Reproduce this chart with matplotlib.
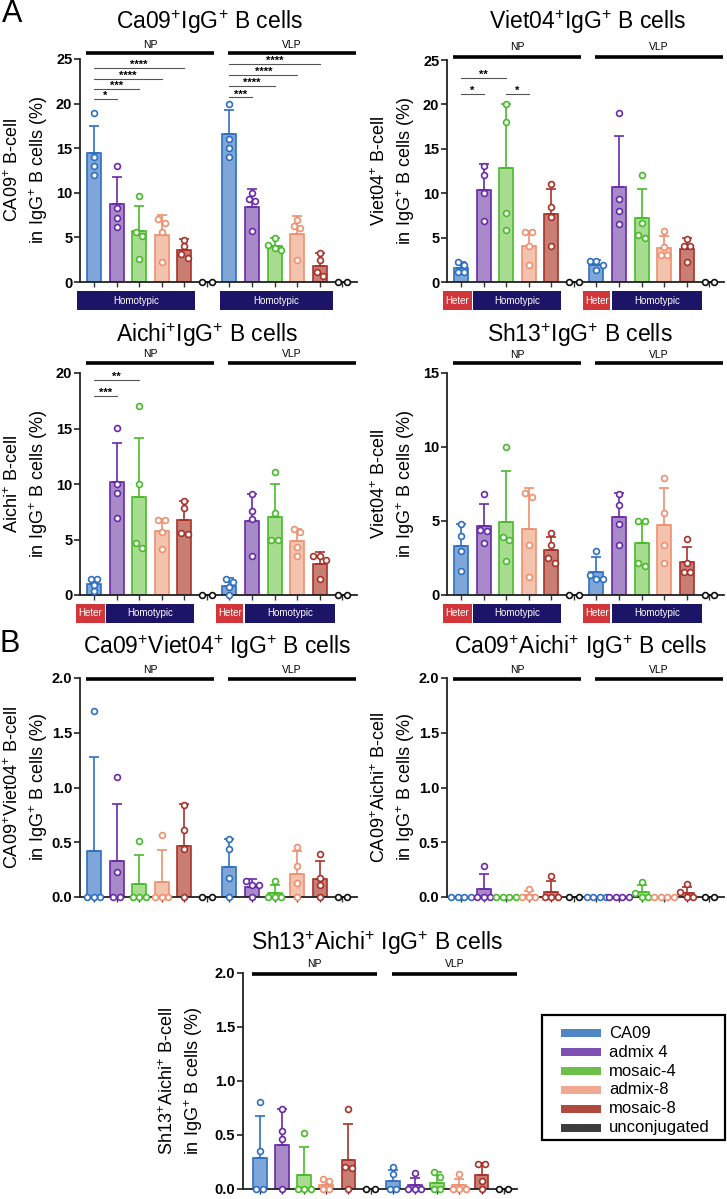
import matplotlib
matplotlib.use('Agg')
import matplotlib.pyplot as plt
import matplotlib.transforms as mtransforms
from matplotlib.patches import Rectangle
import numpy as np

plt.rcParams['font.family'] = ['Liberation Sans', 'DejaVu Sans']
plt.rcParams['mathtext.fontset'] = 'custom'
plt.rcParams['mathtext.rm'] = 'Liberation Sans'
plt.rcParams['mathtext.it'] = 'Liberation Sans:italic'
plt.rcParams['mathtext.bf'] = 'Liberation Sans:bold'

# ---------------- data ----------------
groups = ['CA09', 'admix 4', 'mosaic-4', 'admix-8', 'mosaic-8', 'unconjugated']
vaccines = ['NP', 'VLP']

# Panel A1: Ca09+IgG+
ca09_means = [14.43, 8.8, 5.73, 5.25, 3.56, 0, 16.64, 8.43, 4.05, 5.36, 1.8, 0]
ca09_sds = [3.11, 2.93, 2.82, 2.25, 1.24, 0, 2.59, 1.99, 0.93, 2.02, 1.4, 0]
ca09_points = [[19.0, 14.05, 13.0, 12.0], [13.0, 8.25, 7.2, 6.2], [9.6, 5.65, 5.2, 2.6],
               [7.1, 6.6, 5.65, 2.25], [4.7, 4.0, 3.1, 2.7], [0, 0],
               [20.0, 16.0, 15.0, 14.0], [10.0, 9.3, 9.1, 5.7], [4.9, 4.1, 3.8, 3.6],
               [7.0, 6.3, 6.0, 2.5], [3.26, 2.5, 1.1, 0.64], [0, 0]]
ca09_sig = [(0, 1, 20.5, '*'), (0, 2, 21.6, '***'), (0, 3, 22.75, '****'), (0, 4, 24.0, '****'),
            (6, 7, 20.7, '***'), (6, 8, 21.96, '****'), (6, 9, 23.2, '****'), (6, 10, 24.44, '****')]

# Panel A2: Viet04+IgG+
viet_means = [1.6, 10.41, 12.86, 4.1, 7.63, 0, 1.88, 10.68, 7.18, 3.83, 3.76, 0]
viet_sds = [0.65, 2.86, 7.14, 1.65, 2.87, 0, 0.56, 5.75, 3.31, 1.36, 1.2, 0]
viet_points = [[2.3, 1.9, 1.1, 1.1], [13.1, 12.0, 10.0, 6.85], [20.0, 18.0, 7.8, 5.8],
               [5.6, 5.6, 4.0, 1.95], [11.0, 8.4, 7.3, 4.0], [0, 0],
               [2.37, 2.37, 1.9, 1.3], [19.0, 9.4, 8.0, 6.5], [12.0, 6.65, 5.3, 5.0],
               [5.75, 3.95, 3.0, 3.0], [4.8, 4.1, 4.1, 2.25], [0, 0]]
viet_sig = [(0, 1, 21.17, '*'), (0, 2, 23.0, '**'), (2, 3, 21.17, '*')]

# Panel A3: Aichi+IgG+
aichi_means = [1.0, 10.17, 8.87, 5.77, 6.77, 0, 0.83, 6.68, 7.0, 4.9, 2.77, 0]
aichi_sds = [0.5, 3.51, 5.26, 1.09, 1.73, 0, 0.67, 2.4, 2.98, 1.05, 1.08, 0]
aichi_points = [[1.44, 1.44, 0.9, 0.4], [15.04, 10.0, 9.17, 6.92], [17.05, 10.0, 4.66, 4.2],
                [6.77, 6.77, 5.65, 4.12], [8.5, 7.8, 5.56, 5.5], [0, 0],
                [1.4, 1.2, 0.7, 0.0], [9.08, 7.58, 6.83, 3.55], [11.04, 7.37, 4.96, 4.96],
                [5.95, 5.65, 4.36, 3.55], [3.55, 3.55, 3.16, 1.44], [0, 0]]
aichi_sig = [(0, 1, 17.95, '***'), (0, 2, 19.4, '**')]

# Panel A4: Sh13+IgG+
sh13_means = [3.34, 4.69, 4.92, 4.47, 3.05, 0, 1.58, 5.26, 3.5, 4.71, 2.21, 0]
sh13_sds = [1.46, 1.49, 3.47, 2.79, 0.9, 0, 0.97, 1.62, 1.5, 2.55, 1.06, 0]
sh13_points = [[4.8, 4.0, 3.0, 1.6], [6.81, 4.38, 4.33, 3.54], [10.0, 3.9, 3.72, 2.32],
               [6.92, 6.63, 3.38, 1.2], [4.22, 3.38, 2.48, 2.14], [0, 0],
               [3.0, 1.35, 1.08, 1.08], [6.81, 6.09, 4.78, 3.38], [5.0, 5.0, 2.19, 1.99],
               [7.9, 5.53, 3.38, 2.19], [3.79, 2.14, 1.58, 1.53], [0, 0]]

# Panel B1: Ca09+Viet04+
cv_means = [0.42, 0.33, 0.12, 0.14, 0.47, 0, 0.27, 0.09, 0.04, 0.21, 0.16, 0]
cv_sds = [0.86, 0.52, 0.26, 0.29, 0.38, 0, 0.26, 0.07, 0.07, 0.21, 0.17, 0]
cv_points = [[1.70, 0, 0, 0], [1.10, 0.23, 0, 0], [0.51, 0, 0, 0], [0.57, 0, 0, 0],
             [0.84, 0.61, 0.44, 0], [0, 0],
             [0.53, 0.44, 0.17, 0], [0.15, 0.11, 0.11, 0], [0.15, 0, 0, 0],
             [0.46, 0.28, 0.13, 0], [0.39, 0.17, 0.11, 0], [0, 0]]

# Panel B2: Ca09+Aichi+
ca_means = [0, 0.07, 0, 0.018, 0.045, 0, 0, 0, 0.045, 0, 0.04, 0]
ca_sds = [0, 0.14, 0, 0.035, 0.1, 0, 0, 0, 0.065, 0, 0.055, 0]
ca_points = [[0, 0, 0, 0], [0.28, 0, 0, 0], [0, 0, 0, 0], [0.07, 0, 0, 0],
             [0.19, 0, 0, 0], [0, 0],
             [0, 0, 0, 0], [0, 0, 0, 0], [0.14, 0.04, 0, 0], [0, 0, 0, 0],
             [0.12, 0.045, 0, 0], [0, 0]]

# Panel B3: Sh13+Aichi+
sa_means = [0.29, 0.41, 0.13, 0.04, 0.27, 0, 0.076, 0.036, 0.06, 0.035, 0.13, 0]
sa_sds = [0.39, 0.33, 0.26, 0.05, 0.33, 0, 0.1, 0.07, 0.1, 0.06, 0.11, 0]
sa_points = [[0.81, 0.35, 0, 0], [0.74, 0.54, 0.46, 0], [0.52, 0, 0, 0], [0.09, 0.075, 0, 0],
             [0.74, 0.2, 0.19, 0], [0, 0],
             [0.2, 0.14, 0, 0], [0.145, 0, 0, 0], [0.16, 0.115, 0, 0], [0.14, 0, 0, 0],
             [0.23, 0.23, 0.07, 0], [0, 0]]

# ---------------- style ----------------
W, H = 727, 1199
edge_colors = ['#2f6fc0', '#6a2aa8', '#48bb2a', '#ee9070', '#a8322a', '#111111']
fill_colors = ['#7ea6d8', '#a88ac8', '#a8dc90', '#f4c3ae', '#c97e74', '#ffffff']
legend_colors = ['#4f86c6', '#7e4fb3', '#6cc04a', '#f0a893', '#b04a3f', '#3d3d3d']
HETER = '#d2353a'
HOMO = '#1c1466'

fig = plt.figure(figsize=(W / 100, H / 100), dpi=100)


def add_ax(l, t, r, b):
    return fig.add_axes([l / W, 1 - b / H, (r - l) / W, (b - t) / H])


def fy(ypx):
    return 1 - ypx / H


def swarm_offsets(vals, px_x, px_y, diam=5.5, spacing=6.5):
    order = np.argsort(vals)[::-1]
    offs = np.zeros(len(vals))
    rows = []
    for i in order:
        if rows and abs(vals[rows[-1][0]] - vals[i]) * px_y < diam:
            rows[-1].append(i)
        else:
            rows.append([i])
    for row in rows:
        n = len(row)
        for k, i in enumerate(row):
            offs[i] = (k - (n - 1) / 2) * spacing / px_x
    return offs


def panel(box, means, sds, points, ylim, yticks, fmt, ylabel, title, title_xy,
          xlim=(-0.62, 11.65), sig=None, line_y=None, lab_y=None, boxes=None, lab_x=-0.108):
    l, t, r, b = box
    ax = add_ax(l, t, r, b)
    ax.set_xlim(*xlim)
    ax.set_ylim(*ylim)
    px_x = (r - l) / (xlim[1] - xlim[0])
    px_y = (b - t) / (ylim[1] - ylim[0])
    xs = np.arange(12)
    for i in xs:
        g = i % 6
        if g < 5:
            ax.bar(i, means[i], width=0.62, color=fill_colors[g], edgecolor=edge_colors[g],
                   linewidth=1.2, zorder=2)
        ax.errorbar(i, means[i], yerr=[[0], [sds[i]]], fmt='none', ecolor=edge_colors[g],
                    elinewidth=1.2, capsize=3.3, capthick=1.2, zorder=3, clip_on=False)
        pts = np.array(points[i], dtype=float)
        if g == 5:
            offs = np.array([-4.8, 4.8]) / px_x
        else:
            offs = swarm_offsets(pts, px_x, px_y)
        ax.plot(i + offs, pts, 'o', ms=4.2, mfc='white', mec=edge_colors[g], mew=1.2,
                zorder=4, clip_on=False)
    for s in ['top', 'right']:
        ax.spines[s].set_visible(False)
    for s in ['left', 'bottom']:
        ax.spines[s].set_linewidth(1.3)
        ax.spines[s].set_color('#222222')
    ax.set_xticks(xs)
    ax.set_xticklabels([])
    ax.tick_params(axis='x', length=3.5, width=1.0, color='#333333')
    ax.set_yticks(yticks)
    ax.set_yticklabels([fmt.format(v) for v in yticks], fontsize=10.5, fontweight='bold')
    ax.tick_params(axis='y', length=4, width=1.2, color='#222222', pad=1.5)
    ax.set_ylabel(ylabel, fontsize=13, linespacing=1.3)
    ax.yaxis.set_label_coords(lab_x, 0.5)
    fig.text(title_xy[0] / W, fy(title_xy[1]), title, fontsize=16.5, ha='center', va='center')

    bt = mtransforms.blended_transform_factory(ax.transData, fig.transFigure)
    for (x0, x1), name in [((-0.35, 5.3), vaccines[0]), ((5.95, 11.6), vaccines[1])]:
        ax.plot([x0, x1], [fy(line_y)] * 2, color='black', lw=2.6, transform=bt,
                clip_on=False, solid_capstyle='butt')
        ax.text((x0 + x1) / 2, fy(lab_y), name, fontsize=7.5, ha='center', va='center',
                transform=bt)
    if sig:
        for a, c, y, st in sig:
            ax.plot([a, c], [y, y], color='#555555', lw=0.8, clip_on=False, zorder=5)
            ax.text((a + c) / 2, y, st, ha='center', va='baseline',
                    fontsize=8, fontweight='bold', zorder=5)
    if boxes:
        y0 = fy(b + 28)
        hh = 19 / H
        for name, x0, x1 in boxes:
            col = HETER if name == 'Heter' else HOMO
            ax.add_patch(Rectangle((x0, y0), x1 - x0, hh, transform=bt, facecolor=col,
                                   edgecolor='none', clip_on=False))
            ax.text((x0 + x1) / 2, y0 + hh / 2, name, color='white', fontsize=7,
                    ha='center', va='center', transform=bt)
    return ax


boxes1 = [('Homotypic', -0.76, 4.46), ('Homotypic', 5.58, 10.58)]
boxes2 = [('Heter', -0.8, 0.47), ('Homotypic', 0.55, 4.45),
          ('Heter', 5.4, 6.62), ('Homotypic', 6.68, 10.68)]

t25 = [0, 5, 10, 15, 20, 25]
t20 = [0, 5, 10, 15, 20]
t15 = [0, 5, 10, 15]
t2 = [0.0, 0.5, 1.0, 1.5, 2.0]

panel((80, 59, 357, 282), ca09_means, ca09_sds, ca09_points, (0, 25), t25, '{:.0f}',
      'CA09$^{+}$ B-cell\nin IgG$^{+}$ B cells (%)', 'Ca09$^{+}$IgG$^{+}$ B cells', (209, 22),
      sig=ca09_sig, line_y=53, lab_y=45, boxes=boxes1)
panel((447, 60, 724, 282), viet_means, viet_sds, viet_points, (0, 25), t25, '{:.0f}',
      'Viet04$^{+}$ B-cell\nin IgG$^{+}$ B cells (%)', 'Viet04$^{+}$IgG$^{+}$ B cells', (588, 22),
      sig=viet_sig, line_y=56.5, lab_y=47, boxes=boxes2)
panel((80, 373, 357, 595), aichi_means, aichi_sds, aichi_points, (0, 20), t20, '{:.0f}',
      'Aichi$^{+}$ B-cell\nin IgG$^{+}$ B cells (%)', 'Aichi$^{+}$IgG$^{+}$ B cells', (207, 335),
      sig=aichi_sig, line_y=363, lab_y=354, boxes=boxes2)
panel((447, 373, 724, 595), sh13_means, sh13_sds, sh13_points, (0, 15), t15, '{:.0f}',
      'Viet04$^{+}$ B-cell\nin IgG$^{+}$ B cells (%)', 'Sh13$^{+}$IgG$^{+}$ B cells', (580, 335),
      line_y=363, lab_y=355, boxes=boxes2)
panel((80, 678, 357, 897), cv_means, cv_sds, cv_points, (0, 2), t2, '{:.1f}',
      'CA09$^{+}$Viet04$^{+}$ B-cell\nin IgG$^{+}$ B cells (%)',
      'Ca09$^{+}$Viet04$^{+}$ IgG$^{+}$ B cells', (217, 647), line_y=679, lab_y=670)
panel((447, 678, 724, 897), ca_means, ca_sds, ca_points, (0, 2), t2, '{:.1f}',
      'CA09$^{+}$Aichi$^{+}$ B-cell\nin IgG$^{+}$ B cells (%)',
      'Ca09$^{+}$Aichi$^{+}$ IgG$^{+}$ B cells', (581, 647), line_y=679, lab_y=670)
panel((243, 973, 517, 1189), sa_means, sa_sds, sa_points, (0, 2), t2, '{:.1f}',
      'Sh13$^{+}$Aichi$^{+}$ B-cell\nin IgG$^{+}$ B cells (%)',
      'Sh13$^{+}$Aichi$^{+}$ IgG$^{+}$ B cells', (377, 943), xlim=(-0.75, 11.6),
      line_y=974, lab_y=964, lab_x=-0.14)

fig.text(2 / W, fy(14), 'A', fontsize=22, ha='left', va='center')
fig.text(0 / W, fy(644), 'B', fontsize=22, ha='left', va='center')

# legend
fig.patches.append(Rectangle((542 / W, fy(1140)), (725 - 542) / W, (1140 - 1015) / H,
                             transform=fig.transFigure, facecolor='white', edgecolor='black',
                             lw=1.6, zorder=1))
for k, (name, col) in enumerate(zip(groups, legend_colors)):
    yc = 1033.3 + k * 18.9
    fig.patches.append(Rectangle((561 / W, fy(yc + 4)), 40 / W, 8 / H, transform=fig.transFigure,
                                 facecolor=col, edgecolor='none', zorder=2))
    fig.text(609 / W, fy(yc), name, fontsize=12, ha='left', va='center', zorder=3)

fig.savefig('out.png', dpi=100)
